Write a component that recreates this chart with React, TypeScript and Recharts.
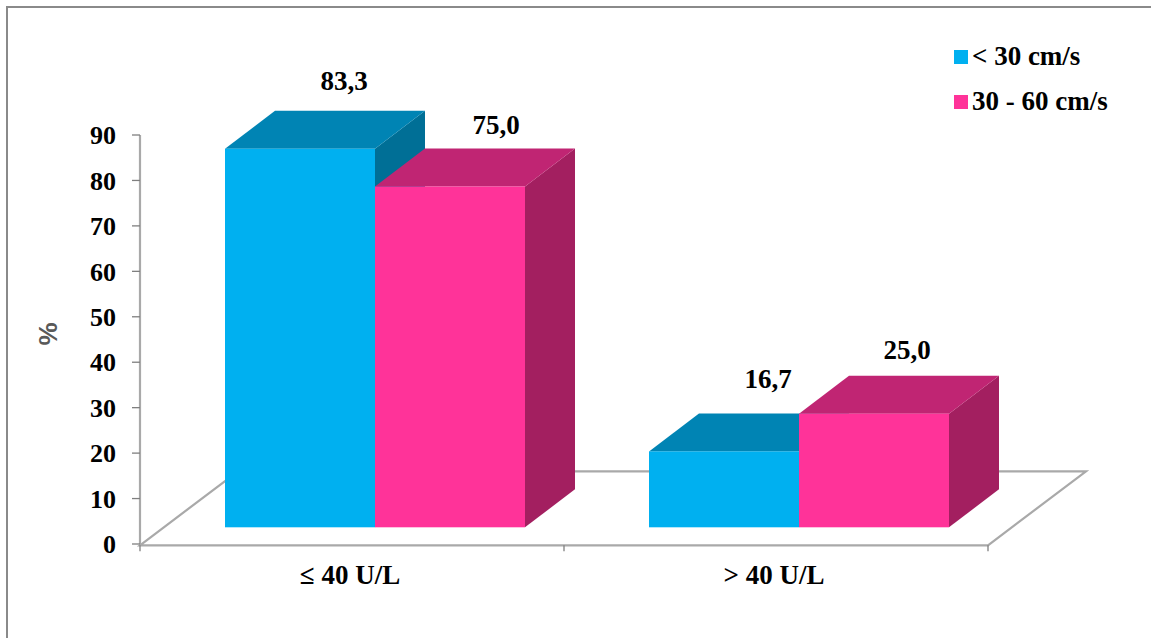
import { BarChart, Bar, XAxis, YAxis, Legend, LabelList, usePlotArea } from "recharts";

const categories = ["≤ 40 U/L", "> 40 U/L"];
const lowVelocity = [83.3, 16.7];
const midVelocity = [75.0, 25.0];
const yTicks = [0, 10, 20, 30, 40, 50, 60, 70, 80, 90];

const data = categories.map((name, i) => ({
  name,
  low: lowVelocity[i],
  mid: midVelocity[i],
}));

const FONT = '"Liberation Serif", "Times New Roman", serif';
const AXIS_GREY = "#a9a9a9";
const TICK_GREY = "#7f7f7f";

// bars sit on the floor, a little inside the front edge
const BAR_DX = 23;
const BAR_DY = -16.7;
// receding edge of each box
const DEPTH_X = 50;
const DEPTH_Y = 38;
// receding edge of the floor
const FLOOR_X = 98;
const FLOOR_Y = 74;

const lowColors = { front: "#00b0f0", top: "#0084b4", side: "#006f96" };
const midColors = { front: "#ff3399", top: "#c02573", side: "#a31f60" };

// hand placed value labels: [x from bar centre, baseline above bar top]
const lowLabelNudge = [[44, 59], [44, 63]];
const midLabelNudge = [[46, 52], [33, 55]];

const Box3D = ({ x, y, width, height, colors }: any) => {
  const l = x + BAR_DX;
  const r = l + width;
  const t = y + BAR_DY;
  const b = t + height;
  return (
    <g>
      <polygon
        points={`${r},${t} ${r + DEPTH_X},${t - DEPTH_Y} ${r + DEPTH_X},${b - DEPTH_Y} ${r},${b}`}
        fill={colors.side}
      />
      <polygon
        points={`${l},${t} ${l + DEPTH_X},${t - DEPTH_Y} ${r + DEPTH_X},${t - DEPTH_Y} ${r},${t}`}
        fill={colors.top}
      />
      <rect x={l} y={t} width={width} height={height} fill={colors.front} />
    </g>
  );
};

// parallelogram floor plus the category dividers under it
const Floor = () => {
  const plot = usePlotArea();
  if (!plot) return null;
  const left = plot.x;
  const right = plot.x + plot.width;
  const front = plot.y + plot.height + 1.3;
  const back = front - FLOOR_Y;
  const dividers = [left, left + plot.width / 2, right];
  return (
    <g>
      <polygon
        points={`${left},${front} ${left + FLOOR_X},${back} ${right + FLOOR_X},${back} ${right},${front}`}
        fill="#ffffff"
        stroke={AXIS_GREY}
        strokeWidth={2.2}
        strokeLinejoin="miter"
      />
      {dividers.map((x) => (
        <line key={x} x1={x} x2={x} y1={front} y2={front + 6} stroke={TICK_GREY} strokeWidth={1.3} />
      ))}
    </g>
  );
};

const valueLabel = (nudges: number[][]) => (props: any) => {
  const { x, y, width, value, index } = props;
  const [dx, up] = nudges[index];
  return (
    <text
      x={x + BAR_DX + width / 2 + dx}
      y={y + BAR_DY - up}
      textAnchor="middle"
      fontFamily={FONT}
      fontWeight="bold"
      fontSize={27}
      fill="#000000"
    >
      {Number(value).toFixed(1).replace(".", ",")}
    </text>
  );
};

const legendItems = [
  { label: "< 30 cm/s", color: lowColors.front },
  { label: "30 - 60 cm/s", color: midColors.front },
];

const ChartLegend = () => (
  <div style={{ fontFamily: FONT, fontWeight: "bold", fontSize: 27, color: "#000" }}>
    {legendItems.map((item) => (
      <div key={item.label} style={{ display: "flex", alignItems: "center", height: 45, whiteSpace: "nowrap" }}>
        <span style={{ width: 14, height: 14, background: item.color, marginRight: 4, flex: "none" }} />
        {item.label}
      </div>
    ))}
  </div>
);

export default function App() {
  return (
    <div style={{ position: "absolute", left: 0, top: 0, width: 1151, height: 638, background: "#fff", overflow: "hidden" }}>
      <div
        style={{
          position: "absolute",
          left: 6,
          top: 6,
          right: -4,
          bottom: -4,
          borderLeft: "2px solid #8a8a8a",
          borderTop: "2px solid #8a8a8a",
        }}
      />
      <BarChart
        width={1151}
        height={638}
        data={data}
        margin={{ top: 135, right: 163, bottom: 0, left: 0 }}
        barSize={150}
        barGap={0}
        style={{ position: "absolute", left: 0, top: 0 }}
      >
        <Floor />
        <XAxis
          dataKey="name"
          height={94}
          axisLine={false}
          tickLine={false}
          tickMargin={15}
          tick={{ fontFamily: FONT, fontWeight: "bold", fontSize: 27, fill: "#000", dx: -2 }}
        />
        <YAxis
          width={140}
          domain={[0, 90]}
          ticks={yTicks}
          interval={0}
          axisLine={{ stroke: AXIS_GREY, strokeWidth: 2.2 }}
          tickLine={{ stroke: TICK_GREY, strokeWidth: 1.3 }}
          tickSize={8}
          tickMargin={16}
          tick={{ fontFamily: FONT, fontWeight: "bold", fontSize: 26, fill: "#000" }}
          label={{
            value: "%",
            angle: -90,
            position: "insideLeft",
            dx: 43,
            dy: 6,
            style: { fontFamily: '"Liberation Sans", Arial, sans-serif', fontWeight: "bold", fontSize: 26, fill: "#595959" },
          }}
        />
        {/* middle/center keeps the legend from taking space away from the plot */}
        <Legend
          layout="horizontal"
          verticalAlign="middle"
          align="center"
          content={<ChartLegend />}
          wrapperStyle={{ left: 954, top: 34, width: 190, bottom: "auto", right: "auto" }}
        />
        <Bar dataKey="low" name="< 30 cm/s" fill={lowColors.front} isAnimationActive={false} shape={(p: any) => <Box3D {...p} colors={lowColors} />}>
          <LabelList dataKey="low" content={valueLabel(lowLabelNudge)} />
        </Bar>
        <Bar dataKey="mid" name="30 - 60 cm/s" fill={midColors.front} isAnimationActive={false} shape={(p: any) => <Box3D {...p} colors={midColors} />}>
          <LabelList dataKey="mid" content={valueLabel(midLabelNudge)} />
        </Bar>
      </BarChart>
    </div>
  );
}
